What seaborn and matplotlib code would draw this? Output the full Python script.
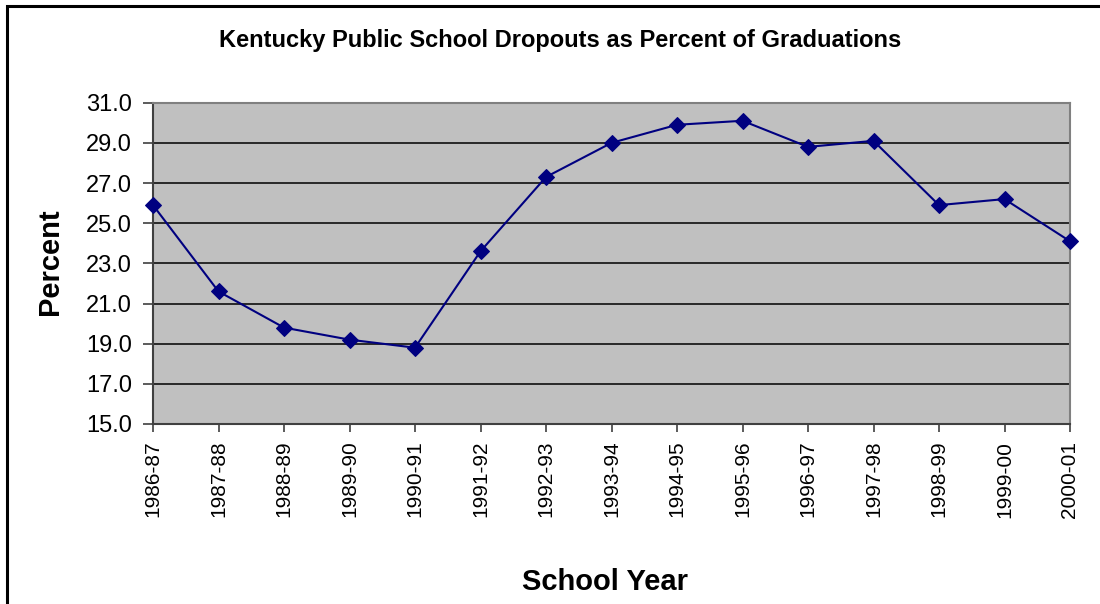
import matplotlib
matplotlib.use("Agg")
import matplotlib.pyplot as plt
import seaborn as sns
import pandas as pd
from matplotlib.patches import Rectangle

school_years = ["1986-87", "1987-88", "1988-89", "1989-90", "1990-91", "1991-92",
                "1992-93", "1993-94", "1994-95", "1995-96", "1996-97", "1997-98",
                "1998-99", "1999-00", "2000-01"]
dropout_pct = [25.9, 21.6, 19.8, 19.2, 18.8, 23.6, 27.3, 29.0, 29.9, 30.1,
               28.8, 29.1, 25.9, 26.2, 24.1]
y_ticks = [15, 17, 19, 21, 23, 25, 27, 29, 31]

sns.set_style("white")
plt.rcParams['font.family'] = ['Liberation Sans', 'DejaVu Sans']
plt.rcParams['text.color'] = 'black'

df = pd.DataFrame({"year": school_years, "pct": dropout_pct})
df["pos"] = range(len(df))

fig = plt.figure(figsize=(11, 6.04), dpi=100)
ax = fig.add_axes([153/1100, 1-424/604, (1070-153)/1100, (424-102.7)/604])
ax.set_facecolor("#C0C0C0")

sns.lineplot(data=df, x="pos", y="pct", ax=ax, color="#000080", linewidth=1.5,
             marker="D", markersize=8.5, markeredgecolor="#000080", sort=False,
             zorder=5, clip_on=False)

ax.set_xlim(0, len(school_years) - 1)
ax.set_ylim(15, 31)
ax.set_yticks(y_ticks)
ax.set_yticklabels([f"{v:.1f}" for v in y_ticks], fontsize=17)
ax.set_xticks(range(len(school_years)))
ax.set_xticklabels(school_years, rotation=90, fontsize=15)
for v in y_ticks[1:-1]:
    ax.axhline(v, color="black", linewidth=1.1, zorder=1)

ax.tick_params(axis="y", direction="out", length=7, width=1.2, color="#404040",
               labelcolor="black", pad=8, left=True)
ax.tick_params(axis="x", direction="out", length=6, width=1.2, color="#404040",
               labelcolor="black", pad=6, bottom=True)

for s in ["left", "bottom"]:
    ax.spines[s].set_color("#404040")
    ax.spines[s].set_linewidth(1.5)
for s in ["top", "right"]:
    ax.spines[s].set_color("#808080")
    ax.spines[s].set_linewidth(1.5)

ax.set_xlabel("")
ax.set_ylabel("")
fig.text(605/1100, 1-582/604, "School Year", fontsize=21, fontweight="bold",
         ha="center", va="center", color="black")
fig.text(50/1100, 1-262/604, "Percent", fontsize=21, fontweight="bold",
         ha="center", va="center", rotation=90, color="black")
fig.text(560/1100, 1-41/604, "Kentucky Public School Dropouts as Percent of Graduations",
         fontsize=17, fontweight="bold", ha="center", va="center", color="black")

fig.patches.append(Rectangle((7/1100, -0.1), 1.2, 1 - 6/604 + 0.1,
                             transform=fig.transFigure, fill=False,
                             edgecolor="black", linewidth=2.2))

fig.savefig("out.png", dpi=100)
